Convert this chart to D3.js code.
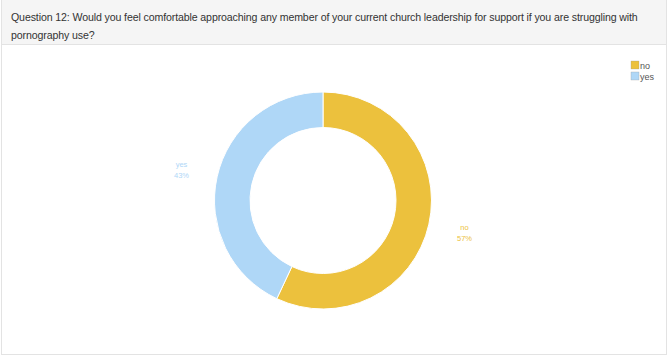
<!DOCTYPE html>
<html>
<head>
<meta charset="utf-8">
<script src="https://cdn.jsdelivr.net/npm/d3@7"></script>
<style>
  body { margin: 0; background: #fff; font-family: "Liberation Sans", Arial, sans-serif; }
  .panel { position: absolute; left: 1px; top: 0; width: 666px; height: 355px; border: 1px solid #e3e3e3; box-sizing: border-box; border-top: none; }
  .head { background: #f5f5f5; border-bottom: 1px solid #e3e3e3; height: 45px; box-sizing: border-box; padding: 8px 9px 0 9px; font-size: 10.6px; letter-spacing: -0.12px; line-height: 18px; color: #333; }
</style>
</head>
<body>
<div class="panel">
  <div class="head">Question 12: Would you feel comfortable approaching any member of your current church leadership for support if you are struggling with<br>pornography use?</div>
</div>
<script>
  // answers and share of responses
  const categories = ["no", "yes"];
  const values = [57, 43];
  const colors = ["#ecc13d", "#afd7f7"];

  const width = 670, height = 359;
  const cx = 323, cy = 200.5;

  const svg = d3.select("body").append("svg")
      .attr("width", width)
      .attr("height", height)
      .style("position", "absolute")
      .style("left", 0)
      .style("top", 0);

  const color = d3.scaleOrdinal()
    .domain(categories)
    .range(colors);

  const pie = d3.pie()
    .sort(null)
    .value(d => d.value);

  const data = categories.map((c, i) => ({name: c, value: values[i]}));

  const arc = d3.arc()
    .innerRadius(73)
    .outerRadius(108.5);

  const labelArc = d3.arc()
    .innerRadius(145)
    .outerRadius(145);

  const g = svg.append("g")
    .attr("transform", "translate(" + cx + "," + cy + ")");

  const slices = pie(data);

  g.selectAll("path")
    .data(slices)
    .enter().append("path")
      .attr("d", arc)
      .attr("fill", d => color(d.data.name))
      .attr("stroke", "#fff")
      .attr("stroke-width", 1);

  const labels = g.selectAll("text.lbl")
    .data(slices)
    .enter().append("text")
      .attr("class", "lbl")
      .attr("transform", d => "translate(" + labelArc.centroid(d) + ")")
      .attr("text-anchor", "middle")
      .attr("fill", d => color(d.data.name))
      .style("font-size", "7.5px");

  labels.append("tspan")
    .attr("x", 0)
    .attr("dy", "-0.3em")
    .text(d => d.data.name);

  labels.append("tspan")
    .attr("x", 0)
    .attr("dy", "1.5em")
    .text(d => d.data.value + "%");

  // legend
  const legend = svg.append("g")
    .attr("transform", "translate(631,61)");

  const item = legend.selectAll("g")
    .data(categories)
    .enter().append("g")
      .attr("transform", (d, i) => "translate(0," + i * 11 + ")");

  item.append("rect")
    .attr("width", 8)
    .attr("height", 8)
    .attr("fill", d => color(d))
    .attr("stroke", "#999")
    .attr("stroke-width", 0.3);

  item.append("text")
    .attr("x", 9)
    .attr("y", 7.5)
    .style("font-size", "9px")
    .attr("fill", "#555")
    .text(d => d);
</script>
</body>
</html>
